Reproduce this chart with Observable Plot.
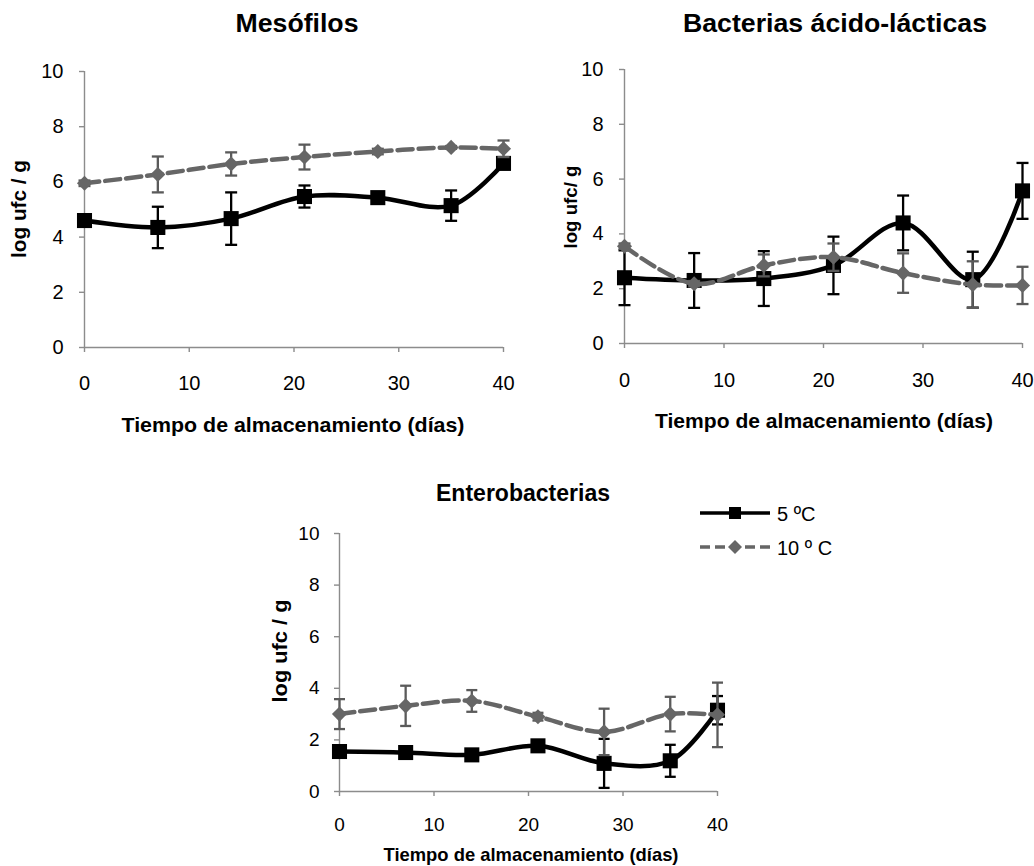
<!DOCTYPE html>
<html><head><meta charset="utf-8">
<script src="https://cdn.jsdelivr.net/npm/d3@7"></script>
<script src="https://cdn.jsdelivr.net/npm/@observablehq/plot@0.6"></script>
<style>
body{margin:0;background:#fff;}
#root{position:relative;width:1034px;height:866px;background:#fff;font-family:"Liberation Sans",Arial,sans-serif;overflow:hidden;}
.panel{position:absolute;}
#overlay{position:absolute;left:0;top:0;pointer-events:none;}
</style></head><body><div id="root"></div>
<script>
// ---- data ----
const days = [0, 7, 14, 21, 28, 35, 40];
const xTicks = [0, 10, 20, 30, 40];
const yTicks = [0, 2, 4, 6, 8, 10];
const seriesNames = ["5 ºC", "10 º C"];
const panelTitles = ["Mesófilos", "Bacterias ácido-lácticas", "Enterobacterias"];
const xTitle = "Tiempo de almacenamiento (días)";
const yTitles = ["log ufc / g", "log ufc/ g", "log ufc / g"];

// Mesófilos
const meso5 = [4.6, 4.35, 4.67, 5.47, 5.43, 5.14, 6.67];
const meso5Err = [0.1, 0.75, 0.95, 0.4, 0.15, 0.55, 0.1];
const meso10 = [5.95, 6.27, 6.65, 6.9, 7.1, 7.25, 7.2];
const meso10Err = [0.1, 0.65, 0.42, 0.45, 0.1, 0.05, 0.3];
// Bacterias ácido-lácticas
const bal5 = [2.4, 2.3, 2.37, 2.85, 4.4, 2.33, 5.57];
const bal5Err = [1.0, 1.0, 1.0, 1.05, 1.0, 1.02, 1.02];
const bal10 = [3.55, 2.18, 2.85, 3.15, 2.57, 2.15, 2.12];
const bal10Err = [0.1, 0.1, 0.4, 0.5, 0.72, 0.85, 0.68];
// Enterobacterias
const ent5 = [1.55, 1.51, 1.42, 1.77, 1.09, 1.19, 3.15];
const ent5Err = [0.1, 0.1, 0.2, 0.2, 0.95, 0.62, 0.55];
const ent10 = [3.0, 3.32, 3.51, 2.9, 2.31, 3.0, 2.97];
const ent10Err = [0.58, 0.78, 0.42, 0.15, 0.9, 0.67, 1.25];

// ---- helpers ----
function rows(v, e) {
  return days.map((d, i) => ({day: d, v: v[i], lo: v[i] - e[i], hi: v[i] + e[i]}));
}
const AXIS = "#8c8c8c", GRAY = "#666666", GRAYBAR = "#5a5a5a";

function panel(cfg) {
  const A = rows(cfg.a, cfg.aErr), B = rows(cfg.b, cfg.bErr);
  const cw = cfg.capW;
  const capSym = {draw(ctx) { ctx.moveTo(-cw, 0); ctx.lineTo(cw, 0); }};
  const el = Plot.plot({
    width: cfg.width, height: cfg.height,
    marginLeft: cfg.mL, marginRight: cfg.mR, marginTop: cfg.mT, marginBottom: cfg.mB,
    style: {background: "transparent", fontFamily: '"Liberation Sans", Arial, sans-serif', fontSize: cfg.fs + "px", color: "#000", overflow: "visible"},
    x: {domain: [0, 40]},
    y: {domain: [0, 10]},
    marks: [
      Plot.ruleX([0], {stroke: AXIS, strokeWidth: 1.4}),
      Plot.ruleY([0], {stroke: AXIS, strokeWidth: 1.4}),
      Plot.axisY({ticks: yTicks, tickSize: 5, tickPadding: cfg.yPad, stroke: AXIS, strokeWidth: 1.4, label: null, fontSize: cfg.fs, fill: "#000"}),
      Plot.axisX({ticks: xTicks, tickSize: 5, tickPadding: cfg.xPad, stroke: AXIS, strokeWidth: 1.4, label: null, fontSize: cfg.fs, fill: "#000"}),
      // 5 ºC
      Plot.ruleX(A, {x: "day", y1: "lo", y2: "hi", stroke: "#000", strokeWidth: 2.3}),
      Plot.dot(A, {x: "day", y: "lo", symbol: capSym, stroke: "#000", strokeWidth: 2.3, fill: "none"}),
      Plot.dot(A, {x: "day", y: "hi", symbol: capSym, stroke: "#000", strokeWidth: 2.3, fill: "none"}),
      Plot.line(A, {x: "day", y: "v", curve: "catmull-rom", stroke: "#000", strokeWidth: cfg.lw}),
      Plot.dot(A, {x: "day", y: "v", symbol: "square", r: cfg.sq, fill: "#000", stroke: "none"}),
      // 10 º C
      Plot.ruleX(B, {x: "day", y1: "lo", y2: "hi", stroke: GRAYBAR, strokeWidth: 2.3}),
      Plot.dot(B, {x: "day", y: "lo", symbol: capSym, stroke: GRAYBAR, strokeWidth: 2.3, fill: "none"}),
      Plot.dot(B, {x: "day", y: "hi", symbol: capSym, stroke: GRAYBAR, strokeWidth: 2.3, fill: "none"}),
      Plot.line(B, {x: "day", y: "v", curve: "catmull-rom", stroke: GRAY, strokeWidth: cfg.lw, strokeDasharray: cfg.dash}),
      Plot.dot(B, {x: "day", y: "v", symbol: "diamond2", r: cfg.dm, fill: GRAY, stroke: "none"})
    ]
  });
  const wrap = document.createElement("div");
  wrap.className = "panel";
  wrap.style.left = cfg.left + "px";
  wrap.style.top = cfg.top + "px";
  wrap.appendChild(el);
  return wrap;
}

const root = document.getElementById("root");
root.appendChild(panel({a: meso5, aErr: meso5Err, b: meso10, bErr: meso10Err,
  left: 0, top: 50, width: 530, height: 350, mL: 84, mR: 27, mT: 21, mB: 53,
  fs: 20, yPad: 16, xPad: 23, capW: 6, lw: 4.5, sq: 8.5, dm: 6.8, dash: "15,6"}));
root.appendChild(panel({a: bal5, aErr: bal5Err, b: bal10, bErr: bal10Err,
  left: 540, top: 50, width: 494, height: 350, mL: 84, mR: 12, mT: 19, mB: 57,
  fs: 20, yPad: 16, xPad: 24, capW: 6, lw: 4.5, sq: 8.5, dm: 6.8, dash: "15,6"}));
root.appendChild(panel({a: ent5, aErr: ent5Err, b: ent10, bErr: ent10Err,
  left: 255, top: 515, width: 490, height: 340, mL: 84, mR: 28, mT: 18, mB: 64,
  fs: 19, yPad: 15, xPad: 21, capW: 5.5, lw: 4.5, sq: 8.5, dm: 6.8, dash: "15,6"}));

// ---- overlay text: titles, axis titles, legend ----
const NS = "http://www.w3.org/2000/svg";
const ov = document.createElementNS(NS, "svg");
ov.setAttribute("id", "overlay");
ov.setAttribute("width", 1034);
ov.setAttribute("height", 866);
ov.style.fontFamily = '"Liberation Sans", Arial, sans-serif';
root.appendChild(ov);
function txt(s, x, y, o = {}) {
  const t = document.createElementNS(NS, "text");
  t.textContent = s;
  t.setAttribute("x", x); t.setAttribute("y", y);
  t.setAttribute("font-size", o.fs || 20);
  t.setAttribute("font-weight", o.bold ? "bold" : "normal");
  t.setAttribute("text-anchor", o.anchor || "middle");
  t.setAttribute("fill", "#000");
  if (o.len) { t.setAttribute("textLength", o.len); t.setAttribute("lengthAdjust", "spacingAndGlyphs"); }
  if (o.rot) t.setAttribute("transform", `rotate(-90 ${x} ${y})`);
  ov.appendChild(t);
  return t;
}
txt(panelTitles[0], 297, 32, {fs: 25.5, bold: true, len: 123});
txt(panelTitles[1], 835, 32, {fs: 25.5, bold: true, len: 304});
txt(panelTitles[2], 523, 501, {fs: 23, bold: true, len: 174});
txt(xTitle, 293, 432, {fs: 20.5, bold: true, len: 343});
txt(xTitle, 824, 428, {fs: 20.5, bold: true, len: 338});
txt(xTitle, 531, 861, {fs: 18.5, bold: true, len: 295});
txt(yTitles[0], 26, 209, {fs: 20, bold: true, rot: true, len: 98});
txt(yTitles[1], 577, 207, {fs: 19, bold: true, rot: true, len: 83});
txt(yTitles[2], 287, 651, {fs: 20, bold: true, rot: true, len: 103});

// legend
function el(tag, attrs) {
  const e = document.createElementNS(NS, tag);
  for (const k in attrs) e.setAttribute(k, attrs[k]);
  ov.appendChild(e);
  return e;
}
el("line", {x1: 700, x2: 770, y1: 513, y2: 513, stroke: "#000", "stroke-width": 3.5});
el("rect", {x: 729, y: 507, width: 12, height: 12, fill: "#000"});
txt(seriesNames[0], 777, 521, {fs: 20, anchor: "start"});
el("line", {x1: 700, x2: 770, y1: 547, y2: 547, stroke: GRAY, "stroke-width": 3.5, "stroke-dasharray": "10,5"});
el("path", {d: "M735,540 L742,547 L735,554 L728,547 Z", fill: GRAY});
txt(seriesNames[1], 777, 555, {fs: 20, anchor: "start"});
</script>
</body></html>
